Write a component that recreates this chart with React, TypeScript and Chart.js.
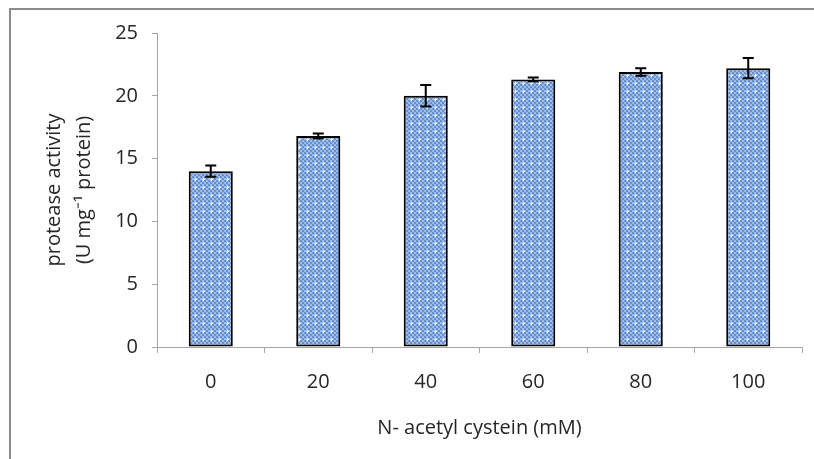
import React, { useEffect, useRef } from "react";
import { Chart, registerables } from "chart.js";

Chart.register(...registerables);

const categories = ["0", "20", "40", "60", "80", "100"];
const activity = [14.0, 16.8, 20.0, 21.3, 21.9, 22.2];
const errors = [0.45, 0.2, 0.85, 0.15, 0.3, 0.8];
const yTicks = [0, 5, 10, 15, 20, 25];

const FONT = "'Open Sans', sans-serif";

function makePattern(): CanvasPattern | string {
  const c = document.createElement("canvas");
  c.width = 8;
  c.height = 8;
  const g = c.getContext("2d");
  if (!g) return "#8fb0e0";
  g.fillStyle = "#9fbce6";
  g.fillRect(0, 0, 8, 8);
  g.fillStyle = "#6590d2";
  for (let y = 0; y < 8; y += 2) {
    for (let x = 0; x < 8; x += 2) {
      if (((x + y) / 2) % 2 === 0) g.fillRect(x, y, 2, 2);
    }
  }
  g.fillStyle = "#eef3fb";
  g.fillRect(3, 2, 1, 3);
  g.fillRect(2, 3, 3, 1);
  const p = g.createPattern(c, "repeat");
  return p || "#8fb0e0";
}

const framePlugin = {
  id: "frame",
  beforeDraw(chart: any) {
    const ctx = chart.ctx;
    ctx.save();
    ctx.fillStyle = "#ffffff";
    ctx.fillRect(0, 0, chart.width, chart.height);
    ctx.strokeStyle = "#8c8c8c";
    ctx.lineWidth = 2;
    ctx.strokeRect(10, 9, chart.width + 50, chart.height + 50);
    ctx.restore();
  },
};

const errorBarPlugin = {
  id: "errorBars",
  afterDatasetsDraw(chart: any) {
    const ctx = chart.ctx;
    const meta = chart.getDatasetMeta(0);
    const yScale = chart.scales.y;
    ctx.save();
    ctx.strokeStyle = "#000000";
    ctx.lineWidth = 2;
    meta.data.forEach((bar: any, i: number) => {
      const v = activity[i];
      const e = errors[i];
      const x = bar.x;
      const yTop = yScale.getPixelForValue(v + e);
      const yBot = yScale.getPixelForValue(v - e);
      const cap = 5.5;
      ctx.beginPath();
      ctx.moveTo(x, yTop);
      ctx.lineTo(x, yBot);
      ctx.moveTo(x - cap, yTop);
      ctx.lineTo(x + cap, yTop);
      ctx.moveTo(x - cap, yBot);
      ctx.lineTo(x + cap, yBot);
      ctx.stroke();
    });
    ctx.restore();
  },
};

export default function App() {
  const ref = useRef<HTMLCanvasElement>(null);

  useEffect(() => {
    if (!ref.current) return;
    const chart = new Chart(ref.current, {
      type: "bar",
      data: {
        labels: categories,
        datasets: [
          {
            data: activity,
            backgroundColor: makePattern() as any,
            borderColor: "#000000",
            borderWidth: 2,
            borderSkipped: false,
            barPercentage: 0.41,
            categoryPercentage: 1,
          },
        ],
      },
      options: {
        animation: false,
        responsive: false,
        maintainAspectRatio: false,
        layout: { padding: { left: 35, top: 33, right: 12, bottom: 19 } },
        plugins: {
          legend: { display: false },
          tooltip: { enabled: false },
        },
        scales: {
          x: {
            grid: {
              drawOnChartArea: false,
              drawTicks: true,
              tickLength: 6,
              color: "#a6a6a6",
              offset: true,
            },
            border: { color: "#a6a6a6", width: 1 },
            ticks: {
              color: "#262626",
              padding: 17,
              font: { family: FONT, size: 20 },
            },
            title: {
              display: true,
              text: "N- acetyl cystein (mM)",
              color: "#262626",
              font: { family: FONT, size: 20 },
              padding: { top: 0, bottom: 0 },
            },
            afterFit(scale: any) {
              scale.height = 93;
            },
          },
          y: {
            min: 0,
            max: 25,
            afterBuildTicks(scale: any) {
              scale.ticks = yTicks.map((v) => ({ value: v }));
            },
            grid: {
              drawOnChartArea: false,
              drawTicks: true,
              tickLength: 5,
              color: "#a6a6a6",
            },
            border: { color: "#a6a6a6", width: 1 },
            ticks: {
              color: "#262626",
              padding: 14,
              font: { family: FONT, size: 20 },
            },
            title: {
              display: true,
              text: ["protease activity", "(U mg\u207B\u00B9 protein)"],
              color: "#262626",
              font: { family: FONT, size: 20, lineHeight: "30px" as any },
              padding: { top: 4, bottom: 0 },
            },
            afterFit(scale: any) {
              scale.width = 122;
            },
          },
        },
      },
      plugins: [framePlugin, errorBarPlugin],
    });
    return () => chart.destroy();
  }, []);

  return (
    <div style={{ position: "absolute", left: 0, top: 0, width: 814, height: 459 }}>
      <canvas ref={ref} width={814} height={459} style={{ display: "block" }} />
    </div>
  );
}
